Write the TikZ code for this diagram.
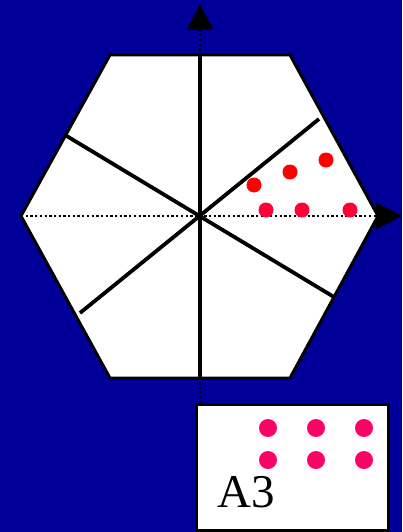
\documentclass[tikz,border=0pt]{standalone}
\usepackage{fontspec}
\setmainfont{Liberation Serif}
\usetikzlibrary{arrows.meta}

\definecolor{deepblue}{RGB}{0,0,153}
\definecolor{dotred}{RGB}{255,0,0}
\definecolor{dotrose}{RGB}{255,0,55}
\definecolor{dotpink}{RGB}{255,0,102}

\begin{document}
\begin{tikzpicture}[x=1pt,y=-1pt]

% --- Global TikZ Styles ---
\tikzset{
    backdrop/.style={
        fill=deepblue
    },
    hexface/.style={
        fill=white,
        draw=black,
        line width=3pt,
        line join=miter
    },
    spoke/.style={
        draw=black,
        line width=3.8pt
    },
    axisline/.style={
        draw=black,
        line width=2.3pt,
        dash pattern=on 2.3pt off 2.4pt,
        -{Triangle[line width=0pt,length=26pt,width=27pt]}
    },
    legendbox/.style={
        fill=white,
        draw=black,
        line width=3pt
    },
    tagtext/.style={
        font=\fontsize{47}{47}\selectfont,
        inner sep=0pt,
        anchor=base west
    }
}

% Background
\path[backdrop] (0,0) rectangle (402,532);
\useasboundingbox (0,0) rectangle (402,532);

% ==================================================
% --- Hexagon ---
% ==================================================

\coordinate (O)  at (200,216);
\coordinate (hW) at (21,216);
\coordinate (hNW) at (110,55);
\coordinate (hNE) at (290,55);
\coordinate (hE) at (378,216);
\coordinate (hSE) at (290,378);
\coordinate (hSW) at (110,378);

\draw[hexface] (hW) -- (hNW) -- (hNE) -- (hE) -- (hSE) -- (hSW) -- cycle;

% ==================================================
% --- Axes ---
% ==================================================

\coordinate (xtip) at (402,216);
\coordinate (ytip) at (200,4);
\coordinate (yfoot) at (200,403);

\draw[axisline] (hW) -- (xtip);
\draw[axisline] (yfoot) -- (ytip);

% ==================================================
% --- Spokes ---
% ==================================================

\coordinate (sN)  at (200,55);
\coordinate (sS)  at (200,378);
\coordinate (sNE) at (319,119);
\coordinate (sSW) at (80,313);
\coordinate (sNW) at (65,135);
\coordinate (sSE) at (334,297);

\draw[spoke] (sN) -- (sS);
\draw[spoke] (sSW) -- (sNE);
\draw[spoke] (sNW) -- (sSE);

% Dots in the sector
\foreach \x/\y in {254/185, 290/172, 326/160}{
    \fill[dotred] (\x,\y) circle (7.5pt);
}
\foreach \x in {266, 302, 350}{
    \fill[dotrose] (\x,210) circle (7.5pt);
}

% ==================================================
% --- Legend box ---
% ==================================================

\draw[legendbox] (196,404) rectangle (388,530);

\foreach \x in {268, 316, 364}{
    \foreach \y in {428, 460}{
        \fill[dotpink] (\x,\y) circle (9pt);
    }
}

\node[tagtext] (tag) at (217,507) {A3};

\end{tikzpicture}
\end{document}
